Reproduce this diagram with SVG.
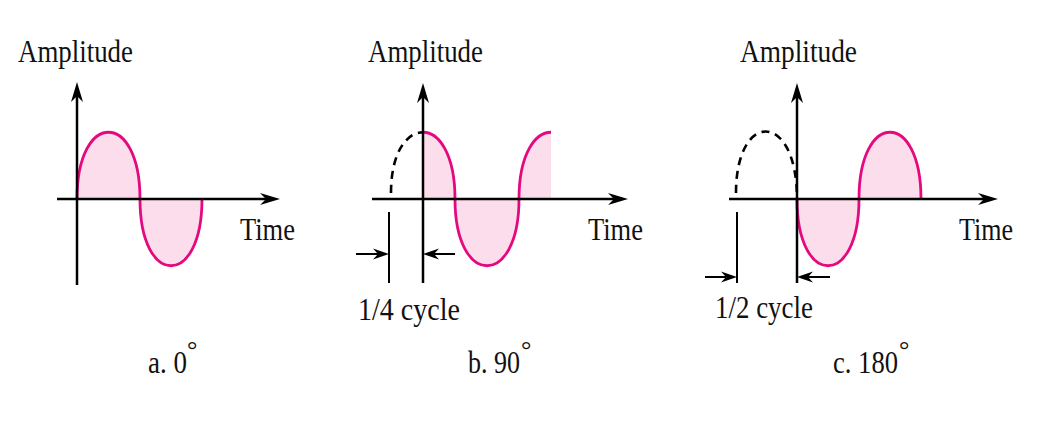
<svg xmlns="http://www.w3.org/2000/svg" width="1047" height="437" viewBox="0 0 1047 437">
<style>
text{font-family:"Liberation Serif","Times New Roman",serif;fill:#111;font-size:32px}
.axis{stroke:#000;stroke-width:2.5;fill:none;marker-end:url(#big)}
.dim{stroke:#000;stroke-width:2;fill:none}
.dimA{stroke:#000;stroke-width:2;fill:none;marker-end:url(#small)}
.wave{stroke:#E5097F;stroke-width:2.8;fill:none}
.fill{fill:#FCDDEB;stroke:none}
.dash{stroke:#000;stroke-width:2.6;fill:none;stroke-dasharray:8 6}
.deg{font-size:26px}
</style>
<defs>
<marker id="big" markerUnits="userSpaceOnUse" markerWidth="24" markerHeight="16" viewBox="0 -8 22 16" refX="6" refY="0" orient="auto">
<path d="M0,-6 L20,0 L0,6 L6,0 Z" fill="#000"/>
</marker>
<marker id="small" markerUnits="userSpaceOnUse" markerWidth="20" markerHeight="14" viewBox="0 -7 18 14" refX="5" refY="0" orient="auto">
<path d="M0,-5.5 L16,0 L0,5.5 L5,0 Z" fill="#000"/>
</marker>
</defs>

<g id="panel-a">
<path class="fill" d="M77,199 C77,110 140,110 140,199 C140,288 202,288 202,199 Z"/>
<path class="wave" d="M77,199 C77,110 140,110 140,199 C140,288 202,288 202,199"/>
<text x="18" y="62" textLength="115" lengthAdjust="spacingAndGlyphs">Amplitude</text>
<text x="240" y="240" textLength="55" lengthAdjust="spacingAndGlyphs">Time</text>
<text transform="translate(148,373) scale(0.844,1)" x="0" y="0">a. 0</text>
<text class="deg" x="187" y="358">°</text>
</g>

<g id="panel-b">
<path class="fill" d="M423,199 L423,132.25 C439,132.25 455,154.5 455,199 C455,288 519,288 519,199 C519,154.5 535,132.25 551,132.25 L551,199 Z"/>
<path class="wave" d="M423,132.25 C439,132.25 455,154.5 455,199 C455,288 519,288 519,199 C519,154.5 535,132.25 551,132.25"/>
<path class="dash" d="M391,193 C391,152 407,132.25 423,132.25"/>
<text x="368" y="62" textLength="115" lengthAdjust="spacingAndGlyphs">Amplitude</text>
<text x="588" y="240" textLength="55" lengthAdjust="spacingAndGlyphs">Time</text>
<text x="358" y="320" textLength="102" lengthAdjust="spacingAndGlyphs">1/4 cycle</text>
<text transform="translate(468,373) scale(0.8125,1)" x="0" y="0">b. 90</text>
<text class="deg" x="521" y="358">°</text>
</g>

<g id="panel-c">
<path class="fill" d="M797,199 C797,288 859,288 859,199 C859,110 921,110 921,199 Z"/>
<path class="wave" d="M797,199 C797,288 859,288 859,199 C859,110 921,110 921,199"/>
<path class="dash" d="M736,193 C736,110 797,110 797,199"/>
<text x="740" y="62" textLength="117" lengthAdjust="spacingAndGlyphs">Amplitude</text>
<text x="959" y="240" textLength="54" lengthAdjust="spacingAndGlyphs">Time</text>
<text x="715" y="318" textLength="98" lengthAdjust="spacingAndGlyphs">1/2 cycle</text>
<text transform="translate(833,373) scale(0.831,1)" x="0" y="0">c. 180</text>
<text class="deg" x="899" y="358">°</text>
</g>

<g id="connectors">
<line class="axis" x1="77" y1="285" x2="77" y2="96"/>
<line class="axis" x1="57" y1="199" x2="266" y2="199"/>
<line class="axis" x1="423" y1="283" x2="423" y2="97"/>
<line class="axis" x1="372" y1="199" x2="614" y2="199"/>
<line class="axis" x1="797" y1="283" x2="797" y2="97"/>
<line class="axis" x1="729" y1="199" x2="984" y2="199"/>
<line class="dim" x1="389" y1="212" x2="389" y2="283"/>
<line class="dimA" x1="356" y1="254" x2="378" y2="254"/>
<line class="dimA" x1="455" y1="254" x2="434" y2="254"/>
<line class="dim" x1="737" y1="212" x2="737" y2="283"/>
<line class="dimA" x1="705" y1="277" x2="726" y2="277"/>
<line class="dimA" x1="830" y1="277" x2="808" y2="277"/>
</g>
</svg>
